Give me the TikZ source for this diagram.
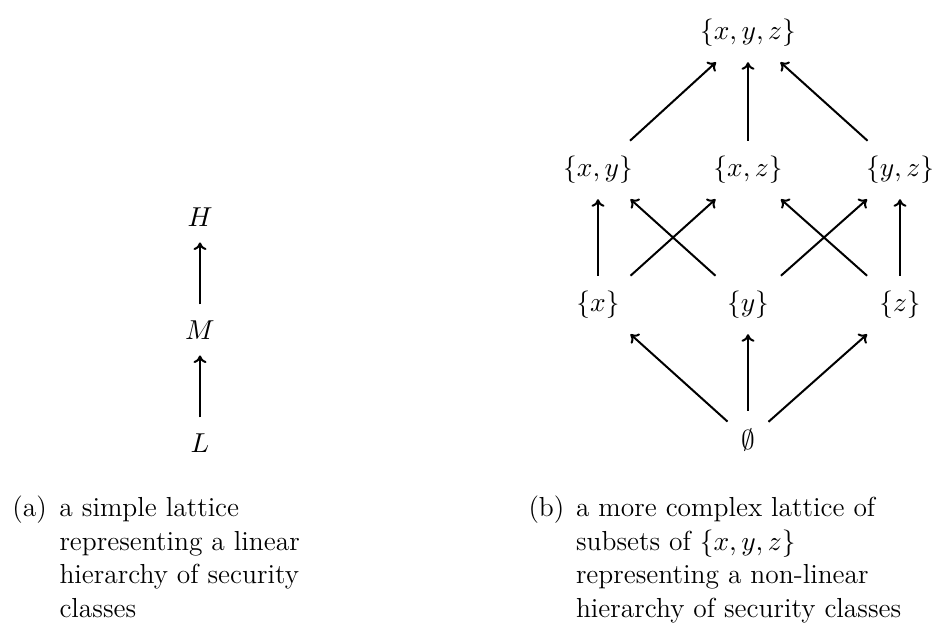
\documentclass[tikz,border=0pt]{standalone}
\usetikzlibrary{arrows.meta}
\begin{document}
\begin{tikzpicture}[x=0.4pt,y=-0.4pt,
  every node/.style={font=\fontsize{11}{13.4}\selectfont},
  lat/.style={inner xsep=2pt, inner ysep=0pt, minimum height=23pt, minimum width=26pt},
  latsmall/.style={lat, minimum width=16pt},
  lin/.style={inner sep=0pt, minimum height=20pt, minimum width=14pt},
  arr/.style={draw, line width=0.8pt, -{To[length=3pt,width=5.2pt]}},
  captext/.style={anchor=base west, inner sep=0pt, align=left}]
\useasboundingbox (0,0) rectangle (940,630);
% (a)
\node[lin] (H) at (200,217) {$H$};
\node[lin] (M) at (200,330) {$M$};
\node[lin] (L) at (200,443) {$L$};
\draw[arr] (M) -- (H);
\draw[arr] (L) -- (M);
% (b)
\node[lat] (xyz) at (748,33) {$\{x,y,z\}$};
\node[lat] (xy) at (598,170) {$\{x,y\}$};
\node[lat] (xz) at (748,170) {$\{x,z\}$};
\node[lat] (yz) at (900,170) {$\{y,z\}$};
\node[lat] (x) at (598,305) {$\{x\}$};
\node[lat] (y) at (748,305) {$\{y\}$};
\node[lat] (z) at (900,305) {$\{z\}$};
\node[latsmall] (e) at (748,440) {$\emptyset$};
\draw[arr] (xy) -- (xyz);
\draw[arr] (xz) -- (xyz);
\draw[arr] (yz) -- (xyz);
\draw[arr] (x) -- (xy);
\draw[arr] (x) -- (xz);
\draw[arr] (y) -- (xy);
\draw[arr] (y) -- (yz);
\draw[arr] (z) -- (xz);
\draw[arr] (z) -- (yz);
\draw[arr] (e) -- (x);
\draw[arr] (e) -- (y);
\draw[arr] (e) -- (z);
% captions
\node[captext] (capa) at (12,517) {\begin{tabular}[t]{@{}p{18.8pt}@{}l@{}}
(a) & a simple lattice\\
 & representing a linear\\
 & hierarchy of security\\
 & classes
\end{tabular}};
\node[captext] (capb) at (528,517) {\begin{tabular}[t]{@{}p{19pt}@{}l@{}}
(b) & a more complex lattice of\\
 & subsets of $\{x,y,z\}$\\
 & representing a non-linear\\
 & hierarchy of security classes
\end{tabular}};
\end{tikzpicture}
\end{document}
